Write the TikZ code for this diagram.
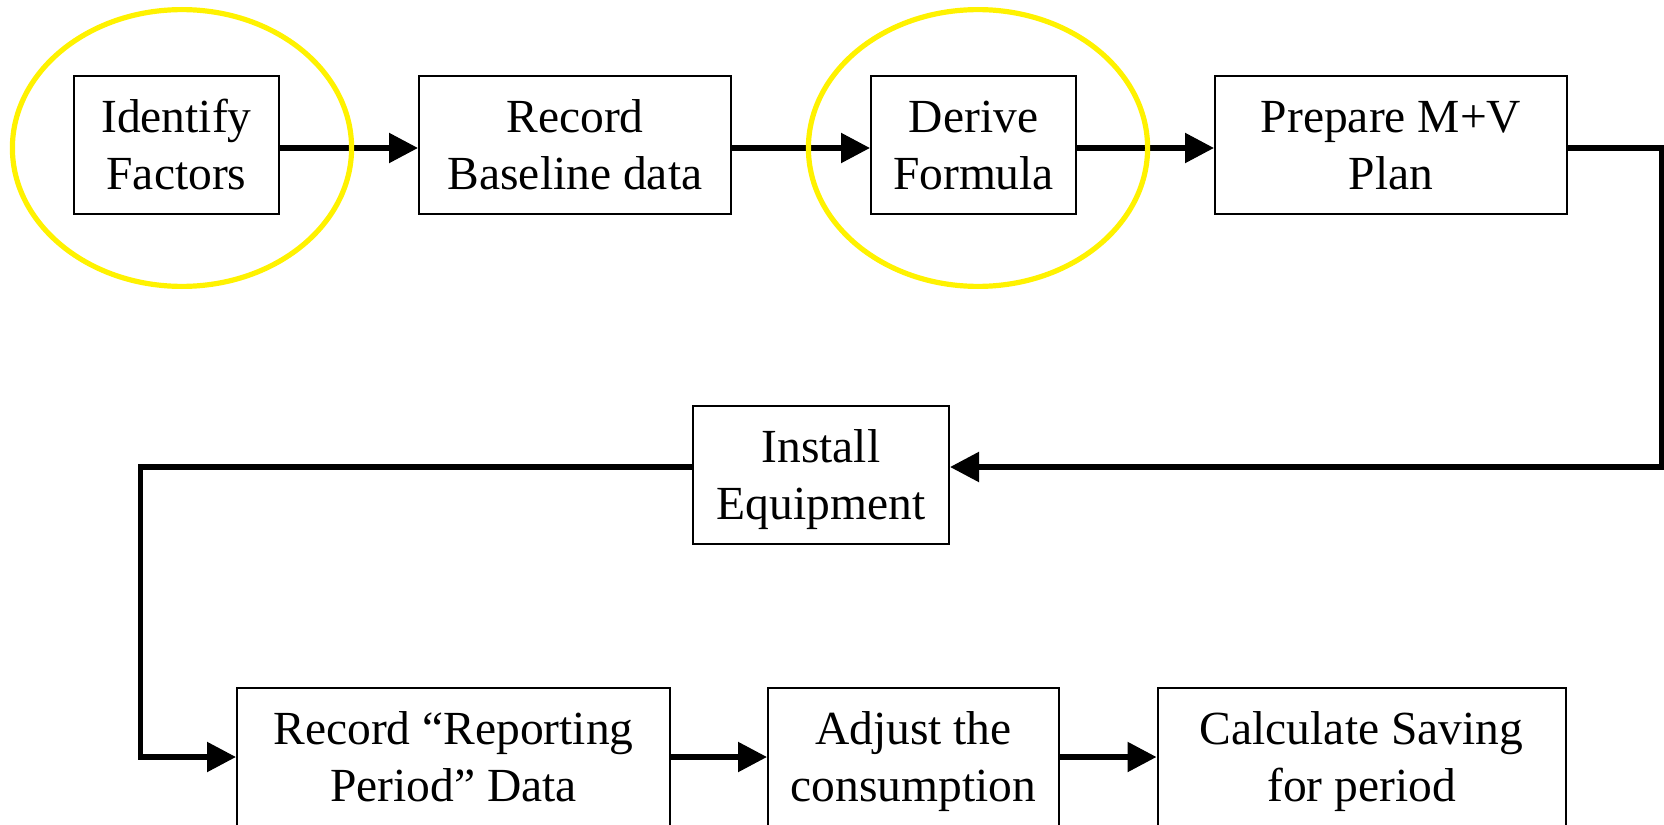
\documentclass[tikz,border=0pt]{standalone}
\usepackage{fontspec}
\setmainfont{Liberation Serif}
\usetikzlibrary{arrows.meta}
% two-line box label with fixed first-line height and last-line depth
\newcommand\boxtext[2]{\rule{0pt}{22pt}#1\\#2\rule[-6pt]{0pt}{6pt}}
\begin{document}
\begin{tikzpicture}[x=0.5pt,y=-0.5pt,
  stepbox/.style={draw, line width=1pt, inner sep=0pt, align=center,
    font=\fontsize{23.75pt}{28.3pt}\selectfont, minimum height=69pt},
  conn/.style={line width=2.7pt, line join=miter},
  flow/.style={conn, -{Triangle[length=14.5pt,width=14.5pt]}},
  ring/.style={draw=yellow, line width=2.6pt}]
\useasboundingbox (0,0) rectangle (1664,824);

% process steps
\node[stepbox, minimum width=102.5pt] (identify) at (176.5,145) {\boxtext{Identify}{Factors}};
\node[stepbox, minimum width=156pt]   (baseline) at (575,145)   {\boxtext{Record}{Baseline data}};
\node[stepbox, minimum width=102.5pt] (derive)   at (973.5,145) {\boxtext{Derive}{Formula}};
\node[stepbox, minimum width=176pt]   (prepare)  at (1391,145)  {\boxtext{Prepare M+V}{Plan}};
\node[stepbox, minimum width=128pt]   (install)  at (821,475)   {\boxtext{Install}{Equipment}};
\node[stepbox, minimum width=216.5pt] (report)   at (453.5,757) {\boxtext{Record “Reporting}{Period” Data}};
\node[stepbox, minimum width=145.5pt] (adjust)   at (913.5,757) {\boxtext{Adjust the}{consumption}};
\node[stepbox, minimum width=204pt]   (calc)     at (1361.5,757){\boxtext{Calculate Saving}{for period}};

% routing corners
\coordinate (r1) at (1662,148);
\coordinate (r2) at (1662,467);
\coordinate (l1) at (140.5,467);
\coordinate (l2) at (140.5,757);

% connectors
\draw[flow] ([yshift=-1.5pt]identify.east) -- ([yshift=-1.5pt]baseline.west);
\draw[flow] ([yshift=-1.5pt]baseline.east) -- ([yshift=-1.5pt]derive.west);
\draw[flow] ([yshift=-1.5pt]derive.east) -- ([yshift=-1.5pt]prepare.west);
\draw[flow] ([yshift=-1.5pt]prepare.east) -- (r1) -- (r2) -- ([yshift=4pt]install.east);
\draw[flow] ([yshift=4pt]install.west) -- (l1) -- (l2) -- (report.west);
\draw[flow] (report.east) -- (adjust.west);
\draw[flow] (adjust.east) -- (calc.west);

% highlight rings
\draw[ring] (182,148) ellipse [x radius=84.8pt, y radius=69.2pt];
\draw[ring] (978,148) ellipse [x radius=84.8pt, y radius=69.2pt];
\end{tikzpicture}
\end{document}
